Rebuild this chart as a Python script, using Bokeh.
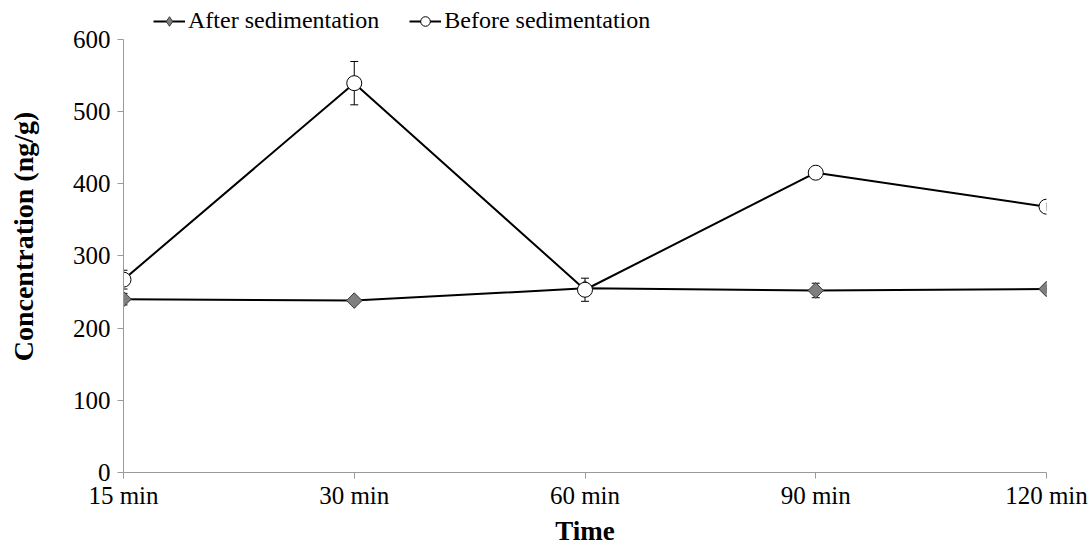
import math
from bokeh.plotting import figure
from bokeh.models import (ColumnDataSource, Range1d, FixedTicker, Whisker, TeeHead,
                          Legend, LegendItem)
from bokeh.embed import file_html
from bokeh.resources import INLINE

times = ["15 min", "30 min", "60 min", "90 min", "120 min"]
after = [240, 238, 255, 252, 254]
after_err = [8, 4, 6, 10, 5]
before = [267, 539, 253, 415, 368]
before_err = [13, 30, 16, 5, 5]
y_ticks = [0, 100, 200, 300, 400, 500, 600]

xs = list(range(len(times)))
src_a = ColumnDataSource(dict(x=xs, y=after,
                              lo=[v - e for v, e in zip(after, after_err)],
                              hi=[v + e for v, e in zip(after, after_err)]))
src_b = ColumnDataSource(dict(x=xs, y=before,
                              lo=[v - e for v, e in zip(before, before_err)],
                              hi=[v + e for v, e in zip(before, before_err)]))

FONT = "Liberation Serif"
# frame runs to the top edge; the axis itself stops at 600, leaving room for the legend
y_top = 600 * 477 / 438
p = figure(width=1088, height=548, output_backend="svg", toolbar_location=None,
           x_range=Range1d(0, len(times) - 1), y_range=Range1d(0, y_top),
           min_border_left=123, min_border_right=42, min_border_top=0, min_border_bottom=71)
p.outline_line_color = None
p.grid.visible = False
p.background_fill_color = "white"
p.border_fill_color = "white"

for ax in (p.xaxis[0], p.yaxis[0]):
    ax.axis_line_color = "#9a9a9a"
    ax.major_tick_line_color = "#9a9a9a"
    ax.minor_tick_line_color = None
    ax.major_tick_in = 0
    ax.major_tick_out = 6
    ax.major_label_text_font = FONT
    ax.major_label_text_font_size = "25px"
    ax.major_label_text_color = "black"
    ax.axis_label_text_font = FONT
    ax.axis_label_text_font_style = "bold"
    ax.axis_label_text_color = "black"

p.xaxis.ticker = FixedTicker(ticks=xs)
p.xaxis.major_label_overrides = {i: t for i, t in enumerate(times)}
p.xaxis.axis_label = "Time"
p.xaxis.axis_label_text_font_size = "27px"
p.xaxis.major_label_standoff = 3
p.xaxis.axis_label_standoff = 4
p.yaxis.ticker = FixedTicker(ticks=y_ticks)
p.yaxis.bounds = (0, 600)
p.yaxis.axis_label = "Concentration (ng/g)"
p.yaxis.axis_label_text_font_size = "28px"
p.yaxis.major_label_standoff = 7
p.yaxis.axis_label_standoff = 31

for s in (src_a, src_b):
    w = Whisker(source=s, base="x", upper="hi", lower="lo", dimension="height",
                line_color="black", line_width=1, level="underlay",
                upper_head=TeeHead(size=8, line_color="black", line_width=1),
                lower_head=TeeHead(size=8, line_color="black", line_width=1))
    p.add_layout(w)

la = p.line("x", "y", source=src_a, line_color="black", line_width=2)
lb = p.line("x", "y", source=src_b, line_color="black", line_width=2)
# diamond used as the legend swatch; drawn under the rotated square of the same point
ma_key = p.scatter("x", "y", source=src_a, marker="diamond", size=15,
                   fill_color="#7f7f7f", line_color="#3a3a3a", line_width=1)
ma = p.scatter("x", "y", source=src_a, marker="square", size=11, angle=math.pi / 4,
               fill_color="#7f7f7f", line_color="#3a3a3a", line_width=1)
mb = p.scatter("x", "y", source=src_b, marker="circle", size=15,
               fill_color="white", line_color="black", line_width=1)

legend = Legend(items=[LegendItem(label="After sedimentation", renderers=[la, ma_key]),
                       LegendItem(label="Before sedimentation", renderers=[lb, mb])],
                location=(30, 438), orientation="horizontal",
                label_text_font=FONT, label_text_font_size="24px",
                label_text_color="black",
                label_standoff=3, glyph_width=32, glyph_height=24,
                spacing=30, padding=0, margin=0, border_line_color=None,
                background_fill_alpha=0)
p.add_layout(legend, "center")

open("out.html", "w").write(file_html(p, INLINE))
